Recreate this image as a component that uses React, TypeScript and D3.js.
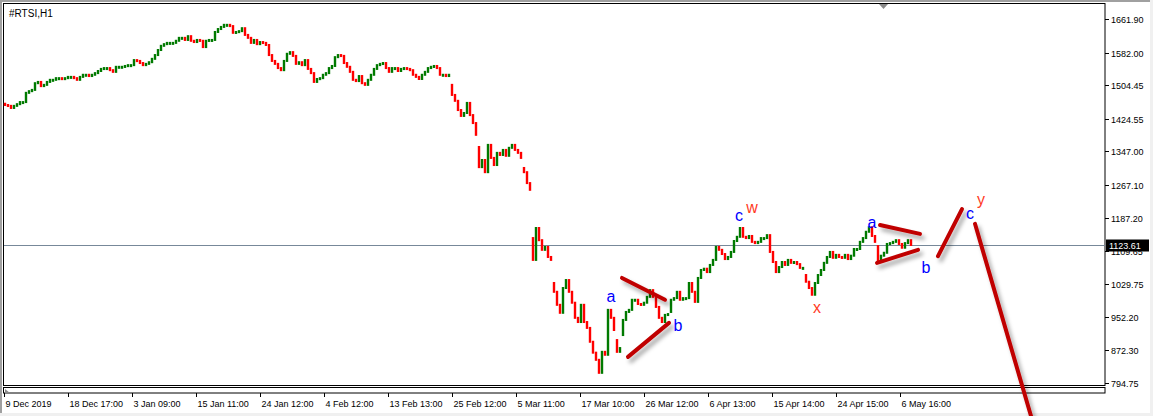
import React, { useMemo } from 'react'
import * as d3 from 'd3'

const WIDTH = 1153
const HEIGHT = 416

// #RTSI H1, one close for every third hourly bar
const closes = [
  1457, 1455, 1450, 1455, 1459, 1464, 1464, 1486, 1490, 1493,
  1509, 1512, 1502, 1505, 1512, 1517, 1517, 1521, 1521, 1519,
  1521, 1524, 1524, 1521, 1517, 1524, 1529, 1529, 1526, 1529,
  1533, 1538, 1543, 1545, 1545, 1540, 1536, 1548, 1548, 1548,
  1550, 1552, 1552, 1564, 1562, 1557, 1552, 1555, 1559, 1567,
  1576, 1588, 1598, 1602, 1605, 1605, 1605, 1610, 1617, 1617,
  1612, 1621, 1610, 1607, 1612, 1610, 1595, 1610, 1612, 1612,
  1631, 1638, 1643, 1648, 1648, 1645, 1629, 1631, 1633, 1640,
  1624, 1617, 1605, 1612, 1602, 1607, 1605, 1600, 1576, 1562,
  1555, 1545, 1540, 1562, 1579, 1583, 1574, 1555, 1559, 1552,
  1564, 1543, 1533, 1512, 1519, 1521, 1529, 1533, 1545, 1550,
  1571, 1576, 1574, 1557, 1548, 1536, 1517, 1514, 1526, 1509,
  1505, 1517, 1529, 1543, 1552, 1555, 1557, 1545, 1536, 1545,
  1545, 1538, 1543, 1545, 1543, 1540, 1529, 1524, 1519, 1529,
  1536, 1545, 1548, 1550, 1545, 1529, 1529, 1526, 1529, 1481,
  1467, 1445, 1431, 1438, 1462, 1433, 1414, 1386, 1309, 1326,
  1297, 1362, 1331, 1314, 1343, 1338, 1350, 1336, 1355, 1362,
  1350, 1343, 1331, 1297, 1271, 1255, 1088, 1164, 1135, 1112,
  1119, 1095, 1088, 1012, 981, 962, 1021, 1040, 1012, 986,
  950, 940, 981, 940, 926, 893, 867, 850, 819, 869,
  862, 969, 950, 921, 869, 878, 945, 964, 969, 993,
  993, 983, 981, 986, 1000, 1016, 1000, 976, 950, 940,
  957, 959, 993, 997, 1012, 993, 997, 997, 1033, 1012,
  988, 1045, 1064, 1067, 1059, 1076, 1088, 1119, 1112, 1102,
  1090, 1095, 1107, 1133, 1143, 1164, 1143, 1140, 1145, 1131,
  1128, 1131, 1140, 1140, 1147, 1107, 1083, 1059, 1071, 1083,
  1076, 1088, 1081, 1083, 1078, 1069, 1069, 1036, 1021, 1005,
  1033, 1052, 1064, 1081, 1095, 1107, 1093, 1100, 1095, 1093,
  1100, 1090, 1098, 1114, 1114, 1131, 1140, 1155, 1166, 1145,
  1131, 1083, 1098, 1105, 1126, 1128, 1131, 1135, 1126, 1117,
  1128, 1135, 1123.61,
]
const firstOpen = 1460
// bars that opened away from the previous close: [bar, open]
const gapOpens: [number, number][] = [
  [149, 1505], [158, 1357], [173, 1307], [176, 1140], [183, 1033],
  [204, 897], [206, 909], [222, 964], [267, 1052], [291, 1121],
]

const priceTicks = [1661.9, 1582.0, 1504.45, 1424.55, 1347.0, 1267.1, 1187.2, 1109.65, 1029.75, 952.2, 872.3, 794.75]
const lastPrice = 1123.61

const timeLabels = [
  '9 Dec 2019', '18 Dec 17:00', '3 Jan 09:00', '15 Jan 11:00', '24 Jan 12:00',
  '4 Feb 12:00', '13 Feb 13:00', '25 Feb 12:00', '5 Mar 11:00', '17 Mar 10:00',
  '26 Mar 12:00', '6 Apr 13:00', '15 Apr 14:00', '24 Apr 15:00', '6 May 16:00',
]
const timeTickBars = [0, 64, 128, 192, 256, 320, 384, 448, 512, 576, 640, 704, 768, 832, 896]

// wave markup, in [hourly bar, price]
const trendLines: [number, number, number, number][] = [
  [618, 1045, 661, 993],
  [624, 857, 665, 938],
  [876, 1171, 916, 1150],
  [873, 1081, 914, 1112],
  [934, 1097, 958, 1209],
  [971, 1174, 1027, 716],
]
const waveLabels: { t: string, h: number, p: number, red: boolean }[] = [
  { t: 'a', h: 607, p: 1000, red: false },
  { t: 'b', h: 674, p: 931, red: false },
  { t: 'c', h: 735, p: 1195, red: false },
  { t: 'w', h: 748, p: 1212, red: true },
  { t: 'x', h: 813, p: 976, red: true },
  { t: 'a', h: 868, p: 1178, red: false },
  { t: 'b', h: 922, p: 1069, red: false },
  { t: 'c', h: 966, p: 1198, red: false },
  { t: 'y', h: 977, p: 1231, red: true },
]

const FONT = '"Liberation Sans", Arial, sans-serif'

export default function App() {
  const x = useMemo(() => d3.scaleLinear().domain([0, 896]).range([4, 900]), [])
  const y = useMemo(() => d3.scaleLinear().domain([794.75, 1661.9]).range([383, 19]), [])

  const bars = useMemo(() => {
    const gaps = new Map(gapOpens)
    return closes.map((c, i) => {
      const o = gaps.get(i) ?? (i === 0 ? firstOpen : closes[i - 1])
      return { h: 1 + 3 * i, o, c }
    })
  }, [])

  const left = 3.5
  const right = 1105
  const plotBottom = 385.5
  const lastY = Math.round(y(lastPrice)) + 0.5

  return (
    <div>
      <style>{'body{margin:0}'}</style>
      <svg width={WIDTH} height={HEIGHT} style={{ display: 'block', background: '#fff' }}>
        <defs>
          <filter id="shadow" filterUnits="userSpaceOnUse" x="0" y="0" width={WIDTH} height={HEIGHT}>
            <feDropShadow dx="3" dy="4" stdDeviation="2" floodColor="#000" floodOpacity="0.35" />
          </filter>
        </defs>

        {/* window edges */}
        <rect x={0} y={0} width={WIDTH} height={2} fill="#a0a0a0" />
        <rect x={0} y={0} width={2} height={HEIGHT} fill="#a0a0a0" />
        <rect x={1150} y={0} width={3} height={HEIGHT} fill="#f0f0f0" />
        <rect x={0} y={413} width={WIDTH} height={3} fill="#f0f0f0" />

        {/* frames */}
        <rect x={left} y={3.5} width={right - left} height={plotBottom - 3.5} fill="none" stroke="#000" />
        <rect x={left} y={387.5} width={right - left} height={5.5} fill="none" stroke="#000" />
        <polygon points="5,389 5,393 10,393" fill="#8a8a8a" />
        <polygon points="879,4 888,4 883.5,9" fill="#8a8a8a" />

        <text x={9} y={17} fontFamily={FONT} fontSize={10} fill="#000">#RTSI,H1</text>

        {/* last price line */}
        <line x1={4} x2={right} y1={lastY} y2={lastY} stroke="#778899" strokeWidth={1} />

        {/* hourly bars */}
        {bars.map((b, i) => {
          const top = y(Math.max(b.o, b.c)) - 1
          const bot = y(Math.min(b.o, b.c)) + 1
          const hgt = Math.max(3, bot - top)
          const col = b.c >= b.o ? '#007a00' : '#ff0000'
          return <rect key={i} x={x(b.h) - 1.2} y={top} width={2.4} height={hgt} fill={col} />
        })}

        {/* price axis */}
        {priceTicks.map((p, i) => {
          const ty = Math.round(y(p)) + 0.5
          return (
            <g key={i}>
              <line x1={right} x2={right + 4} y1={ty} y2={ty} stroke="#000" />
              <text x={1111} y={ty + 3.5} fontFamily={FONT} fontSize={9} fill="#000">{p.toFixed(2)}</text>
            </g>
          )
        })}
        <rect x={1106} y={lastY - 6} width={43} height={12} fill="#000" />
        <text x={1109} y={lastY + 3.5} fontFamily={FONT} fontSize={9} fill="#fff">{lastPrice.toFixed(2)}</text>

        {/* time axis */}
        {timeLabels.map((t, i) => {
          const tx = Math.round(x(timeTickBars[i])) + 0.5
          return (
            <g key={i}>
              <line x1={tx} x2={tx} y1={393} y2={397} stroke="#000" />
              <text x={tx + 1} y={407} fontFamily={FONT} fontSize={9} fill="#000">{t}</text>
            </g>
          )
        })}

        {/* wave markup */}
        <g filter="url(#shadow)">
          {trendLines.map(([h1, p1, h2, p2], i) => (
            <line key={i} x1={x(h1)} y1={y(p1)} x2={x(h2)} y2={y(p2)} stroke="#c00000" strokeWidth={4} strokeLinecap="round" />
          ))}
        </g>
        {waveLabels.map((l, i) => (
          <text key={i} x={x(l.h)} y={y(l.p)} dy="0.35em" textAnchor="middle" fontFamily={FONT} fontSize={16}
            fill={l.red ? '#ff3b1f' : '#0000ff'}>{l.t}</text>
        ))}
      </svg>
    </div>
  )
}
